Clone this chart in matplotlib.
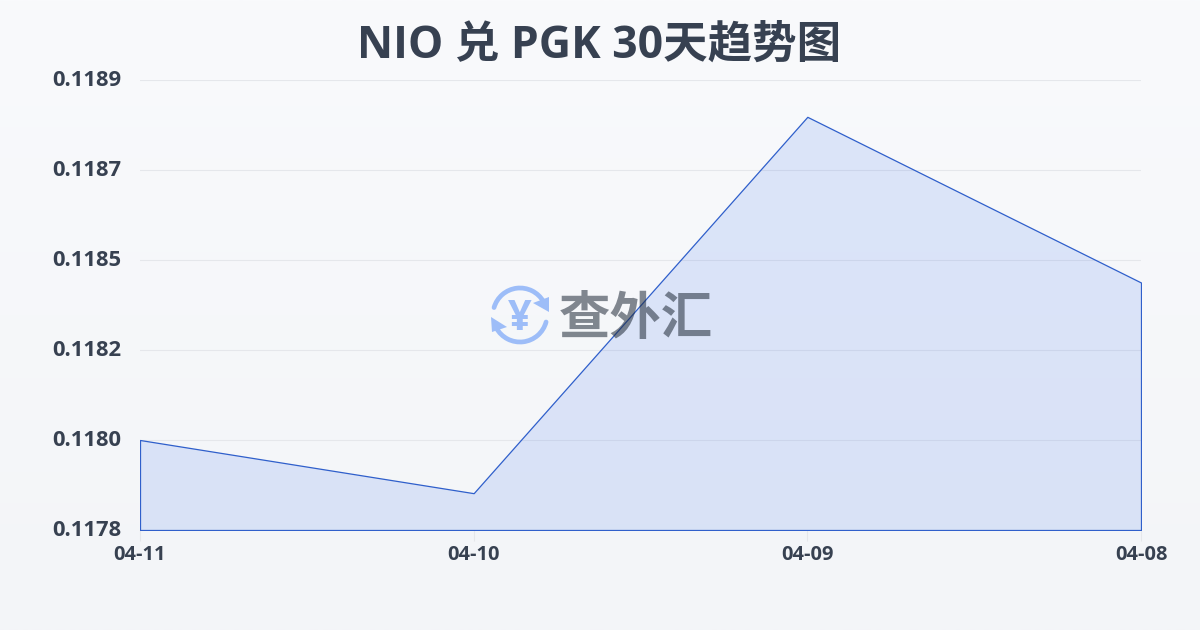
#!/usr/bin/env python
"""NIO / PGK 30-day trend chart."""

import matplotlib
matplotlib.use("Agg")
import matplotlib.pyplot as plt
import numpy as np
from matplotlib.colors import LinearSegmentedColormap
from matplotlib.patches import Arc, Polygon
from matplotlib.transforms import Affine2D

plt.rcParams["font.family"] = ["Open Sans", "Noto Sans CJK SC", "DejaVu Sans"]

dates = ["04-11", "04-10", "04-09", "04-08"]
rates = [0.11802, 0.11789, 0.11881, 0.118405]
tick_values = [0.1178, 0.11802, 0.11824, 0.11846, 0.11868, 0.1189]
tick_labels = ["0.1178", "0.1180", "0.1182", "0.1185", "0.1187", "0.1189"]
title = "NIO 兑 PGK 30天趋势图"

TEXT = "#374151"
LINE = "#2f5fcb"
W, H = 1200, 630

fig = plt.figure(figsize=(12, 6.3), dpi=100)

# background gradient
bg = fig.add_axes([0, 0, 1, 1], zorder=0)
cmap = LinearSegmentedColormap.from_list("bg", ["#f9fafc", "#f3f5f8"])
bg.imshow(np.linspace(0, 1, 256).reshape(-1, 1), aspect="auto", cmap=cmap)
bg.axis("off")

# main plot, 140-1141 x 80-530 px
ax = fig.add_axes([140 / W, 1 - 530 / H, 1001 / W, 450 / H], zorder=1)
ax.patch.set_alpha(0)
x = np.arange(len(dates))
ax.fill_between(x, rates, tick_values[0], facecolor=(0.145, 0.388, 0.922, 0.13),
                edgecolor=LINE, linewidth=0.9, zorder=3)
ax.set_xlim(0, len(dates) - 1)
ax.set_ylim(tick_values[0], tick_values[-1])
ax.set_yticks(tick_values, tick_labels)
ax.set_xticks(x, dates)
ax.grid(axis="y", color="#e5e7eb", linewidth=0.8, zorder=1)
ax.set_axisbelow(True)
for s in ax.spines.values():
    s.set_visible(False)
ax.tick_params(axis="y", length=0, pad=13.5, labelsize=15.8, labelcolor=TEXT)
ax.tick_params(axis="x", length=8, width=0.8, color="#e5e7eb", pad=2.5, labelsize=14.4, labelcolor=TEXT)
for lab in ax.get_xticklabels() + ax.get_yticklabels():
    lab.set_fontweight("bold")
for lab in ax.get_yticklabels():
    lab.set_transform(lab.get_transform() + Affine2D().translate(0, 2))

fig.text(599 / W, 1 - 46 / H, title, ha="center", va="center", fontsize=32,
         fontweight="bold", color=TEXT, zorder=5)

# watermark: logo and name, in pixel coordinates
wm = fig.add_axes([0, 0, 1, 1], zorder=4)
wm.set_xlim(0, W)
wm.set_ylim(H, 0)
wm.axis("off")
BLUE = "#9dbdf8"
cx, cy = 520, 315
wm.add_patch(Arc((cx, cy), 54, 54, theta1=196, theta2=330, color=BLUE, lw=3.4, capstyle="round"))
wm.add_patch(Arc((cx, cy), 54, 54, theta1=15, theta2=151, color=BLUE, lw=3.4, capstyle="round"))
wm.add_patch(Polygon([[549, 297], [549, 312], [533, 303]], closed=True, color=BLUE, lw=0))
wm.add_patch(Polygon([[491, 317], [507, 327], [492, 332]], closed=True, color=BLUE, lw=0))
wm.text(cx, cy, "¥", ha="center", va="center_baseline", fontsize=30, fontweight="bold", color=BLUE)
wm.text(636, 321, "查外汇", ha="center", va="center", fontsize=37, fontweight="bold",
        color="#1f2937", alpha=0.55)

fig.savefig("out.png", dpi=100)
